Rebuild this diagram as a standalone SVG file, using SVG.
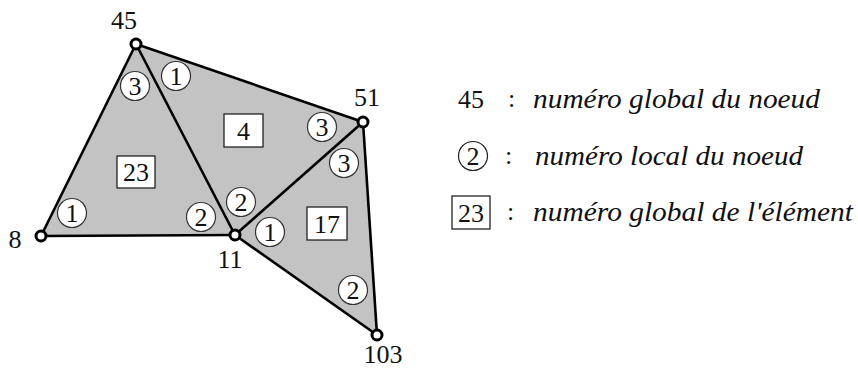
<svg xmlns="http://www.w3.org/2000/svg" width="858" height="370" viewBox="0 0 858 370">
<style>
.elem{fill:#c3c3c3;stroke:none}
.edge{stroke:#000;stroke-width:2.6;fill:none;stroke-linejoin:round}
.node{fill:#fff;stroke:#000;stroke-width:3}
.loc{fill:#fff;stroke:#333;stroke-width:1.2}
.box{fill:#fff;stroke:#222;stroke-width:1.3}
.num{font-family:"Liberation Serif","DejaVu Serif",serif;font-size:26px;fill:#111}
.it{font-family:"Liberation Serif","DejaVu Serif",serif;font-style:italic;font-size:27px;fill:#111}
.c{text-anchor:middle}
</style>
<g id="elements">
<polygon class="elem" points="41,236 136,44 235,235"/>
<polygon class="elem" points="136,44 363,122 235,235"/>
<polygon class="elem" points="235,235 363,122 377,335"/>
</g>
<g id="connectors">
<line class="edge" x1="41" y1="236" x2="136" y2="44"/>
<line class="edge" x1="136" y1="44" x2="235" y2="235"/>
<line class="edge" x1="41" y1="236" x2="235" y2="235"/>
<line class="edge" x1="136" y1="44" x2="363" y2="122"/>
<line class="edge" x1="235" y1="235" x2="363" y2="122"/>
<line class="edge" x1="235" y1="235" x2="377" y2="335"/>
<line class="edge" x1="363" y1="122" x2="377" y2="335"/>
</g>
<g id="node45"><circle class="node" cx="136" cy="44" r="5"/><text class="num c" x="124" y="29">45</text></g>
<g id="node8"><circle class="node" cx="41" cy="236" r="5"/><text class="num c" x="15" y="248">8</text></g>
<g id="node11"><circle class="node" cx="235" cy="235" r="5"/><text class="num c" x="230" y="268">11</text></g>
<g id="node51"><circle class="node" cx="363" cy="122" r="5"/><text class="num c" x="367" y="106">51</text></g>
<g id="node103"><circle class="node" cx="377" cy="335" r="5"/><text class="num c" x="383" y="363">103</text></g>
<g id="elem23"><rect class="box" x="117" y="156" width="38" height="32"/><text class="num c" x="136" y="181">23</text></g>
<g id="elem4"><rect class="box" x="224" y="114" width="39" height="33"/><text class="num c" x="243.5" y="140">4</text></g>
<g id="elem17"><rect class="box" x="307" y="207" width="40" height="33"/><text class="num c" x="327" y="233">17</text></g>
<g id="local-e23-1"><circle class="loc" cx="72" cy="213" r="14.5"/><text class="num c" x="72" y="222">1</text></g>
<g id="local-e23-2"><circle class="loc" cx="201" cy="217" r="14.5"/><text class="num c" x="201" y="226">2</text></g>
<g id="local-e23-3"><circle class="loc" cx="135" cy="86" r="14.5"/><text class="num c" x="135" y="95">3</text></g>
<g id="local-e4-1"><circle class="loc" cx="176" cy="76" r="14.5"/><text class="num c" x="176" y="85">1</text></g>
<g id="local-e4-2"><circle class="loc" cx="241" cy="202" r="14.5"/><text class="num c" x="241" y="211">2</text></g>
<g id="local-e4-3"><circle class="loc" cx="322" cy="127" r="14.5"/><text class="num c" x="322" y="136">3</text></g>
<g id="local-e17-1"><circle class="loc" cx="270" cy="232" r="14.5"/><text class="num c" x="270" y="241">1</text></g>
<g id="local-e17-3"><circle class="loc" cx="344" cy="163" r="14.5"/><text class="num c" x="344" y="172">3</text></g>
<g id="local-e17-2"><circle class="loc" cx="353" cy="290" r="14.5"/><text class="num c" x="353" y="299">2</text></g>
<g id="legend">
<g id="legend-global"><text class="num" x="458" y="108">45</text><text class="num" x="508" y="107">:</text><text class="it" x="533" y="108" textLength="287" lengthAdjust="spacingAndGlyphs">numéro global du noeud</text></g>
<g id="legend-local"><circle cx="473" cy="156" r="14.5" fill="#fff" stroke="#222" stroke-width="1.2"/><text class="num c" x="473" y="165">2</text><text class="num" x="505" y="164">:</text><text class="it" x="535" y="165" textLength="268" lengthAdjust="spacingAndGlyphs">numéro local du noeud</text></g>
<g id="legend-element"><rect class="box" x="452" y="196" width="38" height="33"/><text class="num c" x="471" y="222">23</text><text class="num" x="507" y="220">:</text><text class="it" x="533" y="221" textLength="320" lengthAdjust="spacingAndGlyphs">numéro global de l'élément</text></g>
</g>
</svg>
